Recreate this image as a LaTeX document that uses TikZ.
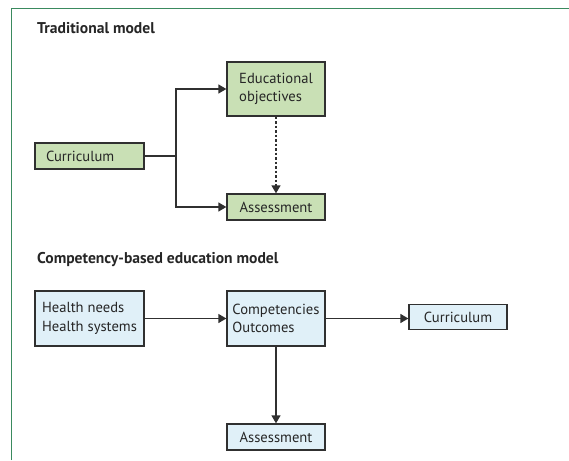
\documentclass[tikz,border=0pt]{standalone}
\usepackage{fontspec}
\setmainfont{PT Sans}
\usetikzlibrary{arrows.meta}
\definecolor{framegreen}{HTML}{3A8A5E}
\definecolor{boxgreen}{HTML}{C9E0B5}
\definecolor{boxblue}{HTML}{E0F0F8}
\definecolor{linegray}{HTML}{303030}
\tikzset{
  x=1pt, y=-1pt,
  box/.style={draw=linegray, line width=1.3pt, inner sep=0pt, align=left,
    font=\fontsize{14.6}{18.5}\selectfont, text=black!85},
  gbox/.style={box, fill=boxgreen},
  bbox/.style={box, fill=boxblue},
  conn/.style={draw=linegray, line width=1.3pt},
  arr/.style={conn, -{Triangle[length=8pt,width=9pt]}},
  title/.style={anchor=base west, font=\bfseries\fontsize{15.6}{19}\selectfont, text=black!85, inner sep=0pt},
}
\begin{document}
\begin{tikzpicture}
\useasboundingbox (0,0) rectangle (569,460);
\draw[framegreen, line width=1.5pt] (11.5,460) -- (11.5,8.5) -- (569,8.5);

\node[title] (t1) at (37,34) {Traditional model};
\node[title] (t2) at (37,263) {Competency-based education model};

% traditional model
\node[gbox, minimum width=98pt, minimum height=54pt] (edu) at (276,89) {Educational\\objectives};
\node[gbox, minimum width=109pt, minimum height=26pt, text width=87pt] (cur1) at (89.5,156) {Curriculum};
\node[gbox, minimum width=98pt, minimum height=26pt] (ass1) at (276,207) {Assessment};
\coordinate (br) at (176,156);

\draw[conn] (cur1.east) -- (br);
\draw[arr] (br) |- (edu.west);
\draw[arr] (br) |- (ass1.west);
\draw[arr, dash pattern=on 2.5pt off 2pt] (edu.south) -- (ass1.north);

% competency-based model
\node[bbox, minimum width=109pt, minimum height=55pt] (health) at (89.5,318.5) {Health needs\\Health systems};
\node[bbox, minimum width=98pt, minimum height=55pt] (comp) at (276,318.5) {Competencies\\Outcomes};
\node[bbox, minimum width=98pt, minimum height=25pt] (cur2) at (458,317) {Curriculum};
\node[bbox, minimum width=98pt, minimum height=26pt] (ass2) at (276,437) {Assessment};

\draw[arr] (health.east) -- (comp.west);
\draw[arr] (comp.east) -- (comp.east -| cur2.west);
\draw[arr] (comp.south) -- (ass2.north);
\end{tikzpicture}
\end{document}
